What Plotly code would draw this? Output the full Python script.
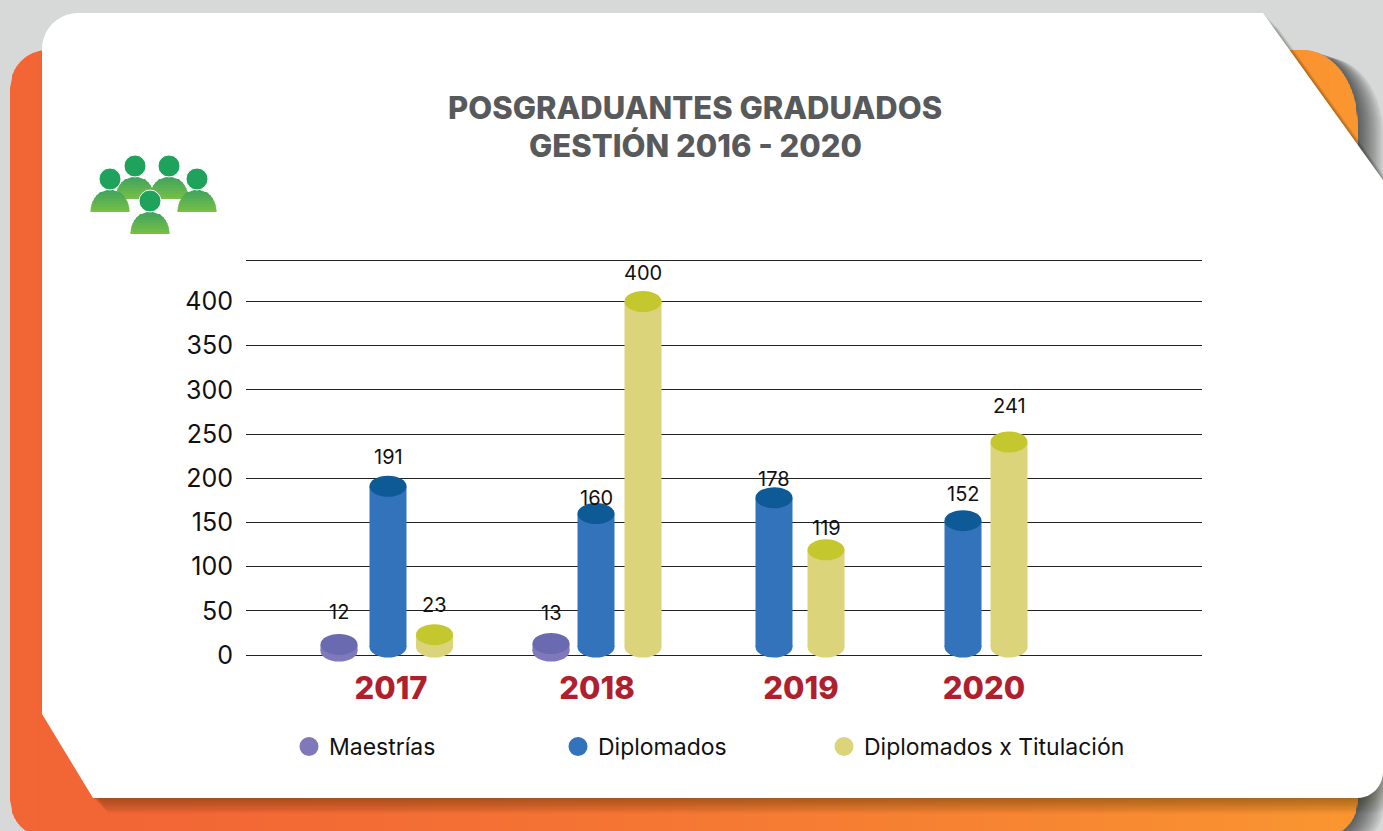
import math
import plotly.graph_objects as go

# ---- data ----
YEARS = ["2017", "2018", "2019", "2020"]
MAESTRIAS = [12, 13, None, None]
DIPLOMADOS = [191, 160, 178, 152]
TITULACION = [23, 400, 119, 241]
Y_TICKS = [0, 50, 100, 150, 200, 250, 300, 350, 400]
SERIES_NAMES = ["Maestrías", "Diplomados", "Diplomados x Titulación"]
TITLE_LINES = ["POSGRADUANTES GRADUADOS", "GESTIÓN 2016 - 2020"]

# ---- layout constants (x axis runs in page pixels) ----
W, H = 1383, 831
SPARE_B = 3  # the legends push the bottom margin by this much; it falls below the window
PLOT_L, PLOT_R, PLOT_T, PLOT_B = 246, 1202, 260, 655
PAD_T, PAD_B = 5, 12
Y_TOP = 447
YEAR_X = [391, 597, 801, 984]
POS_M = [339, 551, None, None]
POS_D = [388, 596, 774, 963]
POS_T = [434.5, 643, 826, 1009]
BAR_W = 37
UNIT = (PLOT_B - PLOT_T) / Y_TOP
RY = 10.5 / UNIT
FOOT = {"M": 4.5, "D": 9, "T": 9}
SHIFT_M = [32, 31, 0, 0]
SHIFT_D = [29, 16, 19, 27]
SHIFT_T = [30, 29, 22, 36]
BODY = {"M": "#7f78ba", "D": "#3273bb", "T": "#dcd47a"}
TOP = {"M": "#6a6ab0", "D": "#0e5a96", "T": "#c4c82e"}
LEGEND_X = {"M": 289, "D": 558, "T": 824}
LEGEND_ID = {"M": "legend", "D": "legend2", "T": "legend3"}
FONT = "Inter"


def fx(x):
    return x / W


def fy(y):
    return 1 - y / H


def poly(points, fill, layer="below"):
    d = "M" + " L".join(f"{fx(x):.5f},{fy(y):.5f}" for x, y in points) + " Z"
    return dict(type="path", xref="paper", yref="paper", path=d, fillcolor=fill,
                line=dict(width=0), layer=layer)


def lerp(a, b, t):
    return "#%02x%02x%02x" % tuple(round(a[i] + (b[i] - a[i]) * t) for i in range(3))


def arc(cx, cy, r, a0, a1, n=10):
    return [(cx + r * math.cos(math.radians(a0 + (a1 - a0) * i / n)),
             cy + r * math.sin(math.radians(a0 + (a1 - a0) * i / n))) for i in range(n + 1)]


shapes = []
# page background
shapes.append(dict(type="rect", xref="paper", yref="paper", x0=0, x1=1, y0=0, y1=1,
                   fillcolor="#d6d9d8", line=dict(width=0), layer="below"))

# orange rounded panel
OL, OR, OT, OB, OC = 10, 1358, 50, 838, 38
TR_RX, TR_RY = 55, 75


def orange_span(x):
    top, bot = OT, OB
    if x < OL + OC:
        d = math.sqrt(max(OC ** 2 - (OL + OC - x) ** 2, 0))
        top, bot = OT + OC - d, OB - OC + d
    if x > OR - TR_RX:
        top = OT + TR_RY * (1 - math.sqrt(max(1 - ((x - (OR - TR_RX)) / TR_RX) ** 2, 0)))
    if x > OR - OC:
        bot = OB - OC + math.sqrt(max(OC ** 2 - (x - (OR - OC)) ** 2, 0))
    return top, bot


edges = [OL + i * 2 for i in range(int(OC / 2) + 1)]
x = edges[-1]
while x < OR - TR_RX:
    x = min(x + 24, OR - TR_RX)
    edges.append(x)
edges += [OR - TR_RX + i * 2 for i in range(1, int(TR_RX / 2) + 1)] + [OR - 0.6, OR]

outline_top = [(e, orange_span(e)[0]) for e in edges]
outline_bot = [(e, orange_span(e)[1]) for e in reversed(edges)]
for i in range(14, 0, -1):
    shapes.append(poly([(a + i * 1.8, b + i * 0.6) for a, b in outline_top + outline_bot],
                       "rgba(0,0,0,0.05)"))

C0, C1 = (242, 101, 53), (250, 150, 48)
for a, b in zip(edges[:-1], edges[1:]):
    b2 = min(b + 1, OR)
    ta, ba = orange_span(a)
    tb, bb = orange_span(b2)
    shapes.append(poly([(a, ta), (b2, tb), (b2, bb), (a, ba)],
                       lerp(C0, C1, ((a - OL) / (OR - OL)) ** 1.4)))

# white card with cut corners
CARD = []
CARD += arc(42 + 36, 13 + 36, 36, 180, 270)
CARD += [(1263, 13), (1383, 180)]
CARD += arc(1357, 772, 26, 0, 90)
CARD += [(93, 798), (42, 714)]
for i in range(12, 0, -1):
    shapes.append(poly([(x + i * 1.3, y + i * 1.3) for x, y in CARD], "rgba(40,20,0,0.03)"))
shapes.append(poly(CARD, "#ffffff"))

# people icon
PEOPLE = [(135, 199, 166), (169, 199, 166), (110, 212, 179), (197, 212, 179), (150, 234, 201)]
for cx, base, head in PEOPLE:
    rx, ry = 19.5, 23
    for j in range(0, 23, 3):
        y0, y1 = base - 23 + j, min(base - 23 + j + 4, base)
        w0 = rx * math.sqrt(max(1 - ((base - y0) / ry) ** 2, 0))
        w1 = rx * math.sqrt(max(1 - ((base - y1) / ry) ** 2, 0))
        shapes.append(poly([(cx - w0, y0), (cx + w0, y0), (cx + w1, y1), (cx - w1, y1)],
                           lerp((64, 163, 95), (122, 192, 69), j / 22)))
    shapes.append(dict(type="circle", xref="paper", yref="paper",
                       x0=fx(cx - 11), x1=fx(cx + 11), y0=fy(head + 11), y1=fy(head - 11),
                       fillcolor="#1fa25c", line=dict(color="#ffffff", width=1), layer="below"))

fig = go.Figure()
annotations = []
SERIES = [("M", MAESTRIAS, POS_M, SHIFT_M), ("D", DIPLOMADOS, POS_D, SHIFT_D),
          ("T", TITULACION, POS_T, SHIFT_T)]
legends = {}
for (key, vals, pos, shift), name in zip(SERIES, SERIES_NAMES):
    foot = FOOT[key]
    xs = [p for p, v in zip(pos, vals) if v is not None]
    ys = [v for v in vals if v is not None]
    sh = [s for s, v in zip(shift, vals) if v is not None]
    fig.add_trace(go.Bar(x=xs, y=[v - foot for v in ys], base=foot, width=BAR_W, name=name,
                         marker=dict(color=BODY[key], line=dict(width=0)), showlegend=False,
                         customdata=ys, hovertemplate=name + ": %{customdata}<extra></extra>"))
    for p, v, s in zip(xs, ys, sh):
        shapes.append(dict(type="circle", xref="x", yref="y", x0=p - BAR_W / 2, x1=p + BAR_W / 2,
                           y0=foot - RY, y1=foot + RY, fillcolor=BODY[key],
                           line=dict(width=0), layer="above"))
        shapes.append(dict(type="circle", xref="x", yref="y", x0=p - BAR_W / 2, x1=p + BAR_W / 2,
                           y0=v - RY, y1=v + RY, fillcolor=TOP[key],
                           line=dict(width=0), layer="above"))
        annotations.append(dict(x=p, y=v, xref="x", yref="y", text=str(v), showarrow=False,
                                yshift=s, font=dict(family=FONT, size=20, color="#111111")))
    fig.add_trace(go.Scatter(x=[None], y=[None], mode="markers", name=name,
                             legend=LEGEND_ID[key],
                             marker=dict(color=BODY[key], size=16, symbol="circle",
                                         line=dict(color=BODY[key], width=3)),
                             showlegend=True))
    legends[LEGEND_ID[key]] = dict(
        orientation="h", x=fx(LEGEND_X[key]), y=fy(725), xanchor="left", yanchor="top",
        itemsizing="trace", bgcolor="rgba(0,0,0,0)",
        font=dict(family=FONT, size=23, color="#111111"))

for line, ypx in zip(TITLE_LINES, (108, 145)):
    annotations.append(dict(x=fx(695), y=fy(ypx), xref="paper", yref="paper", showarrow=False,
                            xanchor="center", yanchor="middle", text=line,
                            font=dict(family=FONT, size=31, color="#58595b", weight=800)))

fig.update_layout(
    width=W, height=H + SPARE_B, margin=dict(l=0, r=0, t=0, b=SPARE_B), autosize=False,
    paper_bgcolor="#d6d9d8", plot_bgcolor="rgba(0,0,0,0)",
    shapes=shapes, annotations=annotations, barmode="overlay",
    font=dict(family=FONT, color="#111111"),
    xaxis=dict(domain=[fx(PLOT_L), fx(PLOT_R)], range=[PLOT_L, PLOT_R], tickmode="array",
               tickvals=YEAR_X, ticktext=YEARS, showgrid=False, zeroline=False, showline=False,
               ticks="", ticklabelstandoff=0,
               tickfont=dict(family=FONT, size=31, color="#b01f2e", weight=800)),
    yaxis=dict(domain=[fy(PLOT_B + PAD_B), fy(PLOT_T - PAD_T)],
               range=[-PAD_B / UNIT, Y_TOP + PAD_T / UNIT], tickmode="array",
               tickvals=Y_TICKS + [Y_TOP], ticktext=[str(v) for v in Y_TICKS] + [""],
               showgrid=True, gridcolor="#222222", gridwidth=1, zeroline=False, showline=False,
               ticks="", ticklabelstandoff=12,
               tickfont=dict(family=FONT, size=25, color="#111111")),
    **legends,
)
fig.write_html("out.html", config={"displayModeBar": False},
               post_script="document.body.style.margin='0';document.documentElement.style.overflow='hidden';")
